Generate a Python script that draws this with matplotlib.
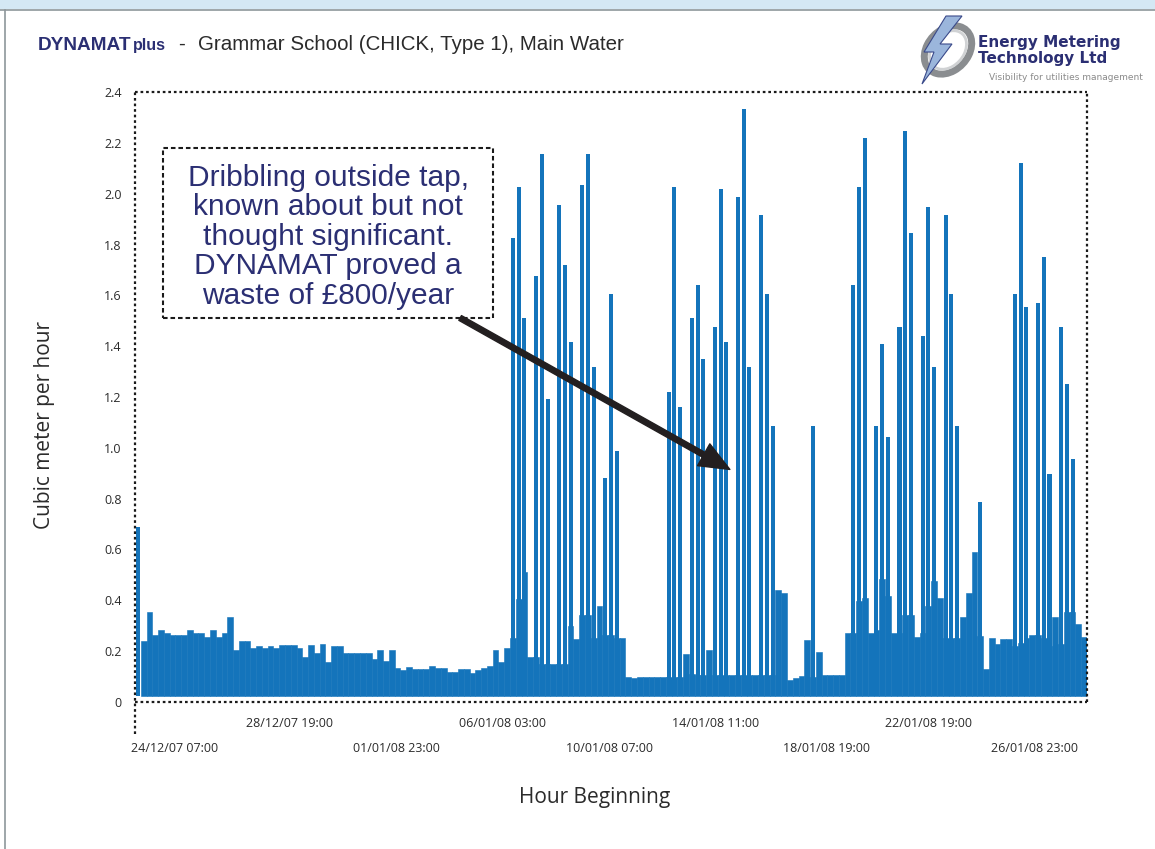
import matplotlib
matplotlib.use('Agg')
import matplotlib.pyplot as plt
from matplotlib.patches import Rectangle, Ellipse, Polygon
from matplotlib.lines import Line2D
import numpy as np

# ---------------- data ----------------
# hours since 24/12/07 07:00 of the first reading slot and the slot length
start_hour = -34.9
step_hours = 5.423

# background (continuous) flow, one value per slot, m3/h
base_values = [
    0.0, 0.239, 0.353, 0.265, 0.282, 0.270, 0.262, 0.265, 0.262, 0.282,
    0.273, 0.270, 0.257, 0.282, 0.257, 0.273, 0.334, 0.203, 0.239, 0.239,
    0.211, 0.222, 0.211, 0.222, 0.211, 0.226, 0.226, 0.226, 0.214, 0.177,
    0.226, 0.191, 0.230, 0.156, 0.219, 0.219, 0.191, 0.191, 0.191, 0.191,
    0.194, 0.168, 0.203, 0.162, 0.203, 0.134, 0.126, 0.136, 0.128, 0.131,
    0.128, 0.140, 0.133, 0.133, 0.119, 0.119, 0.128, 0.128, 0.115, 0.125,
    0.132, 0.140, 0.203, 0.156, 0.214, 0.250, 0.407, 0.512, 0.177, 0.177,
    0.150, 0.150, 0.150, 0.150, 0.150, 0.300, 0.246, 0.344, 0.344, 0.253,
    0.377, 0.265, 0.265, 0.253, 0.253, 0.100, 0.093, 0.100, 0.100, 0.100,
    0.100, 0.100, 0.100, 0.100, 0.100, 0.190, 0.110, 0.108, 0.108, 0.206,
    0.108, 0.108, 0.108, 0.108, 0.108, 0.108, 0.108, 0.108, 0.108, 0.108,
    0.108, 0.442, 0.427, 0.085, 0.093, 0.103, 0.242, 0.100, 0.198, 0.106,
    0.106, 0.106, 0.106, 0.270, 0.270, 0.399, 0.411, 0.273, 0.282, 0.485,
    0.419, 0.273, 0.273, 0.342, 0.342, 0.257, 0.270, 0.378, 0.476, 0.411,
    0.250, 0.250, 0.250, 0.336, 0.427, 0.592, 0.260, 0.128, 0.250, 0.228,
    0.247, 0.247, 0.222, 0.234, 0.250, 0.265, 0.265, 0.250, 0.219, 0.336,
    0.230, 0.356, 0.356, 0.308, 0.254,
]

# usage peaks: slot index and value, m3/h
spike_slots = [0, 65, 66, 67, 69, 70, 71, 73, 74, 75, 77, 78, 79, 81, 82, 83,
               92, 93, 94, 96, 97, 98, 100, 101, 102, 104, 105, 106, 108, 109,
               110, 117, 124, 125, 126, 128, 129, 130, 132, 133, 134, 136, 137,
               138, 140, 141, 142, 146, 152, 153, 154, 156, 157, 158, 160, 161,
               162]
spike_values = [0.689, 1.825, 2.026, 1.512, 1.676, 2.156, 1.193, 1.955, 1.720,
                1.417, 2.034, 2.156, 1.318, 0.881, 1.606, 0.988,
                1.220, 2.026, 1.162, 1.512, 1.641, 1.351, 1.477, 2.018, 1.417,
                1.986, 2.332, 1.318, 1.916, 1.606, 1.087, 1.087, 1.641, 2.026,
                2.219, 1.087, 1.409, 1.044, 1.477, 2.245, 1.845, 1.441, 1.948,
                1.318, 1.916, 1.606, 1.087, 0.785, 1.606, 2.120, 1.555, 1.570,
                1.750, 0.898, 1.477, 1.252, 0.957]

tick_hours = [0, 108, 208, 308, 408, 508, 612, 708, 808]
tick_labels = ['24/12/07 07:00', '28/12/07 19:00', '01/01/08 23:00',
               '06/01/08 03:00', '10/01/08 07:00', '14/01/08 11:00',
               '18/01/08 19:00', '22/01/08 19:00', '26/01/08 23:00']

y_ticks = [0.0, 0.2, 0.4, 0.6, 0.8, 1.0, 1.2, 1.4, 1.6, 1.8, 2.0, 2.2, 2.4]

title_brand = 'DYNAMAT'
title_brand_small = 'plus'
title_rest = 'Grammar School (CHICK, Type 1), Main Water'
note_lines = ['Dribbling outside tap,', 'known about but not',
              'thought significant.', 'DYNAMAT proved a', 'waste of £800/year']

# ---------------- styling ----------------
W, H = 1155, 849
BAR = '#1474bb'
NAVY = '#2b2f73'
GREY_TXT = '#2b2b2b'
FRAME = '#1a1a1a'
bar_floor = 0.024
AX_BOTTOM_PX, AX_TOP_PX = 702, 92

fig = plt.figure(figsize=(W / 100, H / 100), dpi=100)
fig.patch.set_facecolor('white')

# window chrome
fig.add_artist(Rectangle((0, 1 - 9 / H), 1, 9 / H, transform=fig.transFigure,
                         facecolor='#d4e8f4', edgecolor='none'))
fig.add_artist(Line2D([0, 1], [1 - 10 / H, 1 - 10 / H], transform=fig.transFigure,
                      color='#8e979b', lw=1.2))
fig.add_artist(Line2D([4.5 / W, 4.5 / W], [0, 1 - 10 / H], transform=fig.transFigure,
                      color='#8e979b', lw=1.2))

ax = fig.add_axes([135 / W, (H - AX_BOTTOM_PX) / H, 952 / W,
                   (AX_BOTTOM_PX - AX_TOP_PX) / H])
ax.set_facecolor('white')

n = len(base_values)
xs = start_hour + step_hours * np.arange(n)
bv = np.array(base_values)
mask = bv > 0
ax.bar(xs[mask], bv[mask] - bar_floor, bottom=bar_floor, width=step_hours,
       color=BAR, edgecolor=BAR, linewidth=0.4, zorder=2)
sx = start_hour + step_hours * np.array(spike_slots)
ax.bar(sx, np.array(spike_values) - bar_floor, bottom=bar_floor,
       width=step_hours * 0.70, color=BAR, linewidth=0, zorder=3)

x_lo = start_hour - step_hours / 2
x_hi = start_hour + step_hours * (n - 0.5)
ax.set_xlim(x_lo, x_hi)
ax.set_ylim(0, 2.4)

# dotted frame
for s in ax.spines.values():
    s.set_visible(False)
dot = (0, (1.2, 1.3))
frame_kw = dict(transform=ax.transAxes, clip_on=False, color=FRAME, lw=1.6,
                ls=dot, solid_capstyle='butt', dash_capstyle='butt', zorder=7)
ax.plot([0, 1], [1, 1], **frame_kw)
ax.plot([0, 1], [0, 0], **frame_kw)
ax.plot([1, 1], [0, 1], **frame_kw)
ax.plot([0, 0], [-0.052, 1], **frame_kw)

tick_font = dict(family='Open Sans', size=9)
ax.set_yticks(y_ticks)
ax.set_yticklabels(['0' if v == 0 else f'{v:.1f}' for v in y_ticks],
                   fontdict=tick_font, color=GREY_TXT)
ax.tick_params(axis='y', length=0, pad=9.5)

ax.set_xticks(tick_hours[0::2])
ax.set_xticklabels(tick_labels[0::2], fontdict=tick_font, color=GREY_TXT)
ax.set_xticks(tick_hours[1::2], minor=True)
ax.set_xticklabels(tick_labels[1::2], minor=True, fontdict=tick_font, color=GREY_TXT)
ax.tick_params(axis='x', which='major', length=0, pad=29)
ax.tick_params(axis='x', which='minor', length=0, pad=11)

fig.text(45 / W, 1 - 425 / H, 'Cubic meter per hour', rotation=90,
         ha='center', va='center', family='Open Sans', size=15, color=GREY_TXT)
fig.text(595 / W, 1 - 797 / H, 'Hour Beginning', ha='center', va='center',
         family='Open Sans', size=15, color=GREY_TXT)

# annotation box + arrow
box_x0, box_w, box_y0, box_h = -11.3, 310.2, 1.511, 0.668
box = Rectangle((box_x0, box_y0), box_w, box_h, facecolor='white',
                edgecolor=FRAME, lw=1.5, ls=(0, (2.2, 1.4)), zorder=4)
ax.add_patch(box)
line_gap = 0.1159
mid_y = box_y0 + box_h / 2 - 0.014
for k, line in enumerate(note_lines):
    ax.text(box_x0 + box_w / 2, mid_y + (2 - k) * line_gap, line,
            ha='center', va='center', family='Liberation Sans', size=21.5,
            color=NAVY, zorder=5)
ax.annotate('', xy=(521.5, 0.915), xytext=(268.0, 1.511),
            arrowprops=dict(arrowstyle='simple,head_length=0.72,head_width=0.6,tail_width=0.13',
                            mutation_scale=30, facecolor='#231f20', edgecolor='#231f20',
                            shrinkA=0, shrinkB=0), zorder=6)

# title
base_y = 1 - 50 / H
fig.text(38 / W, base_y, title_brand, family='Liberation Sans', weight='bold',
         size=13.7, color=NAVY, va='baseline', ha='left')
fig.text(133 / W, base_y, title_brand_small, family='Liberation Sans', weight='bold',
         size=11.5, color=NAVY, va='baseline', ha='left')
fig.text(178 / W, base_y, '-', family='Liberation Sans', size=14.8,
         color=GREY_TXT, va='baseline', ha='left')
fig.text(198 / W, base_y, title_rest, family='Liberation Sans', size=14.8,
         color=GREY_TXT, va='baseline', ha='left')

# logo
fig.add_artist(Ellipse((948 / W, 1 - 50 / H), 44 / W, 50 / H, angle=-20,
                       transform=fig.transFigure, facecolor='none',
                       edgecolor='#8a8d90', lw=5))
fig.add_artist(Ellipse((948 / W, 1 - 50 / H), 34 / W, 40 / H, angle=-20,
                       transform=fig.transFigure, facecolor='none',
                       edgecolor='#d0d2d4', lw=2))
bolt = [(962, 16), (940, 44), (952, 44), (922, 84), (934, 52), (924, 52), (946, 16)]
fig.add_artist(Polygon([(px / W, 1 - py / H) for px, py in bolt], closed=True,
                       transform=fig.transFigure, facecolor='#9bb6dc',
                       edgecolor='#3a4a8a', lw=0.8))
fig.text(978 / W, 1 - 43 / H, 'Energy Metering', family='DejaVu Sans', weight='bold',
         size=11, color=NAVY, va='center', ha='left')
fig.text(978 / W, 1 - 59 / H, 'Technology Ltd', family='DejaVu Sans', weight='bold',
         size=11, color=NAVY, va='center', ha='left')
fig.text(1143 / W, 1 - 78 / H, 'Visibility for utilities management',
         family='Liberation Sans Narrow', size=6.5, color='#8a8a8a',
         va='center', ha='right')

fig.savefig('out.png', dpi=100, facecolor='white')
